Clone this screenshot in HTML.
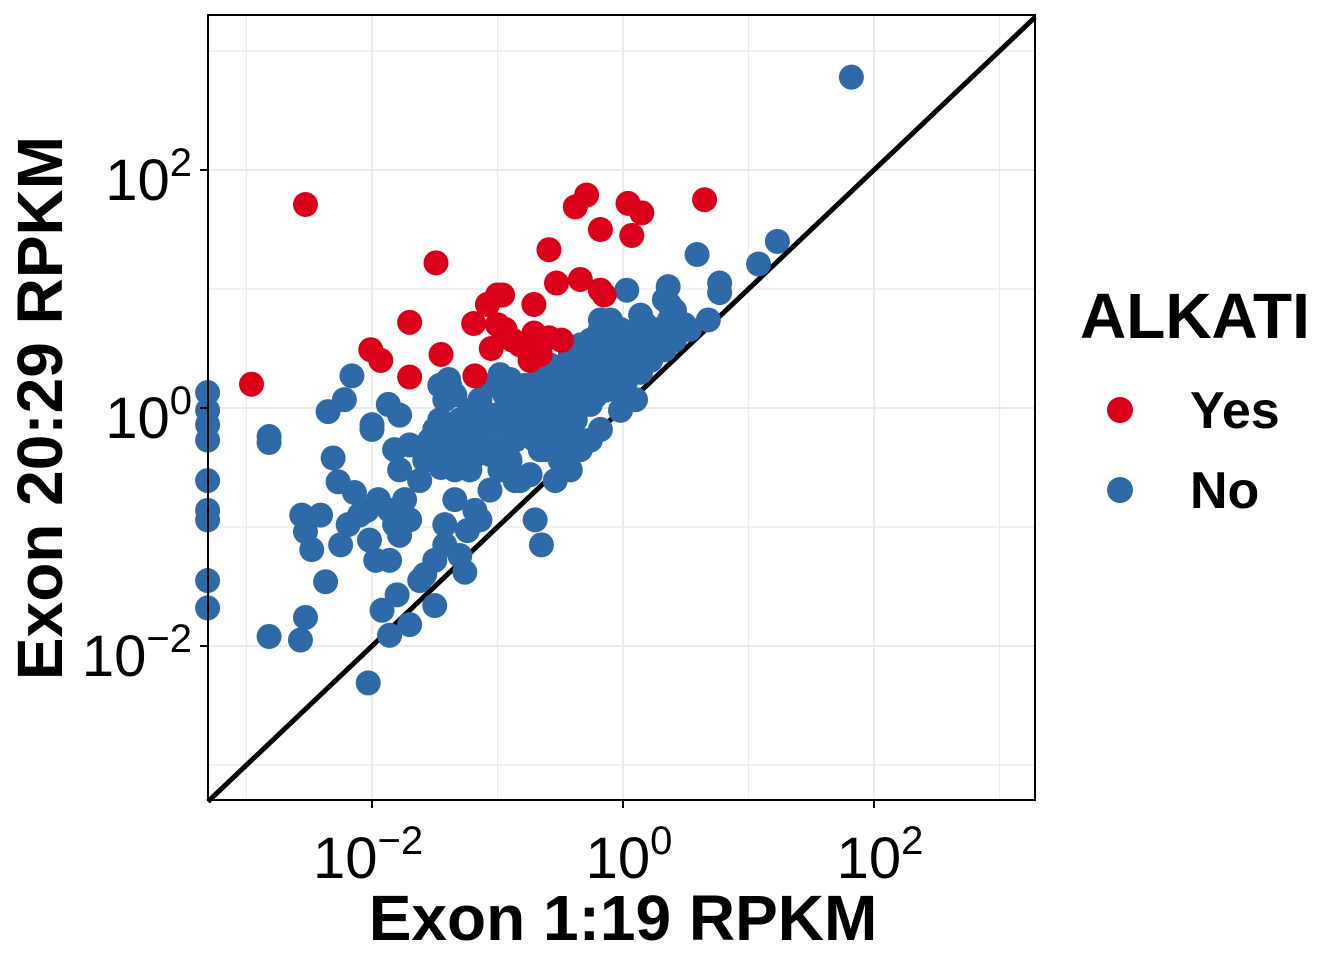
<!DOCTYPE html>
<html><head><meta charset="utf-8"><style>
body{margin:0;background:#fff}
svg text{font-family:"Liberation Sans",Arial,sans-serif}
</style></head><body>
<svg id="chart" width="1344" height="960" xmlns="http://www.w3.org/2000/svg">
<rect width="1344" height="960" fill="#fff"/>
<g id="grid"></g>
<line id="diag" stroke="#000" stroke-width="5"/>
<g id="pts"></g>
<rect x="208" y="15" width="827" height="785" fill="none" stroke="#000" stroke-width="2"/>
<g id="axes"></g>
<text x="623" y="940" text-anchor="middle" font-size="64" font-weight="bold">Exon 1:19 RPKM</text>
<text transform="translate(62,408) rotate(-90)" text-anchor="middle" font-size="64" font-weight="bold">Exon 20:29 RPKM</text>
<text x="1080" y="338" font-size="64" font-weight="bold">ALKATI</text>
<g><circle cx="1120" cy="410" r="13" fill="#DA0019"/><text x="1190" y="428" font-size="52" font-weight="bold">Yes</text></g>
<g><circle cx="1120" cy="490" r="13" fill="#2E6AA7"/><text x="1190" y="508" font-size="52" font-weight="bold">No</text></g>
</svg>
<script>
const xTicks=[-2,0,2];
const yTicks=[-2,0,2];
const minorTicks=[-3,-1,1,3];
const yesLogX=[-2.53,-2.96,-2.01,-1.93,-1.70,-1.70,-1.49,-1.45,-1.18,-1.19,-1.08,-1.00,-1.05,-0.96,-0.94,-1.00,-0.88,-0.71,-0.71,-0.69,-0.59,-0.59,-0.53,-0.49,-0.38,-0.34,-0.29,-0.18,-0.18,-0.15,0.04,0.07,0.15,0.65,-0.74,-0.66,-0.82];
const yesLogY=[1.71,0.20,0.49,0.40,0.72,0.26,1.22,0.45,0.27,0.71,0.87,0.95,0.50,0.95,0.66,0.70,0.57,0.87,0.63,0.49,1.33,0.59,1.05,0.57,1.69,1.08,1.79,1.50,0.99,0.95,1.72,1.45,1.64,1.75,0.40,0.45,0.53];
const noLogX=[1.82,1.23,1.08,0.77,0.77,0.59,0.68,0.36,0.03,
-3.31,-3.31,-3.31,-3.31,-3.31,-3.31,-3.31,-3.31,-3.31,
-2.82,-2.82,-2.82,-2.57,-2.53,-2.56,-2.53,-2.48,-2.41,-2.37,-2.35,-2.31,-2.27,-2.22,-2.16,-2.25,
-2.19,-2.14,-2.10,-2.04,-2.02,-2.00,-2.00,-1.97,-1.95,-2.03,-1.92,-1.86,-1.87,-1.78,-1.80,-1.86,
-1.86,-1.82,-1.78,-1.70,-1.74,-1.78,-1.82,-1.70,-1.62,-1.58,-1.54,-1.50,-1.46,-1.42,-1.38,-1.34,-1.70,
-1.62,-1.58,-1.50,-1.50,-1.42,-1.42,-1.30,-1.26,-1.34,-1.24,-1.18,-1.14,-1.06,-0.98,-0.90,-0.82,-0.74,-0.66,-0.62,-0.54,-0.46,-0.42,-0.34,-0.26,-0.70,-0.65,-0.50,
-1.38,-1.30,-1.22,-1.26,-1.14,-1.10,-1.06,-1.02,-0.94,-0.90,-0.86,-0.82,-0.78,-0.74,-0.70,-0.66,-0.62,-0.58,-0.54,-0.50,-0.46,-0.42,-0.38,-0.34,-0.30,-0.26,-0.22,-0.18,-0.14,-0.10,-0.06,-0.02,0.02,0.06,0.10,0.14,0.18,0.22,0.25,0.29,0.33,0.37,0.41,0.49,0.53,
-0.18,-0.10,-0.26,-0.34,-0.42,-0.50,-0.58,-0.66,-0.74,-0.82,-0.98,-1.06,-1.14,-1.22,-1.30,-1.38,-1.34,-0.02,0.02,0.10,-0.18,-0.34,-1.22,-0.98,-0.86,-0.62,-0.50,
-1.46,-1.39,-0.98,-0.90,-0.18,-0.02,0.14,0.33,0.37,0.41,
-1.42,-1.34,-1.26,-1.18,-1.10,-1.02,-0.94,-0.86,-0.78,-0.70,-0.62,-0.54,-0.46,-0.38,-0.30,-0.22,-0.14,-0.06,0.02,0.10,0.18,0.26,
-1.30,-1.18,-1.06,-0.94,-0.82,-0.70,-0.58,-0.46,-0.34,-0.22,-0.10,0.02,0.14,
-1.50,-1.40,-1.30,-1.20,-1.10,-1.00,-0.90,-0.80,-0.70,-0.60,-0.50,-0.40,-0.30,-0.20,-0.10,0.00,0.10,0.20,0.30,-1.45,-1.25,-1.05];
const noLogY=[2.78,1.40,1.21,1.05,0.97,1.29,0.74,1.02,0.99,
0.13,-0.02,-0.14,-0.27,-0.61,-0.86,-0.94,-1.45,-1.68,
-0.24,-0.29,-1.92,-1.95,-1.76,-0.90,-1.04,-1.19,-0.90,-1.46,-0.03,-0.42,-0.62,0.07,0.27,-1.15,
-0.98,-0.71,-0.90,-0.86,-1.11,-0.18,-0.14,-1.28,-0.77,-2.31,-1.70,-1.91,0.03,-0.06,-1.57,-1.28,
-0.86,-0.98,-1.07,-0.94,-0.77,-0.52,-0.35,-0.31,-0.61,-0.44,-0.27,-0.18,-0.10,0.07,0.19,0.11,-1.82,
-1.45,-1.40,-1.28,-1.66,-1.15,-0.98,-1.24,-1.38,-0.77,-1.03,-0.86,-0.94,-0.69,-0.52,-0.44,-0.61,-0.56,-0.35,-0.27,-0.61,-0.44,-0.52,-0.35,-0.27,-0.94,-1.15,-0.44,
-0.18,-0.10,-0.02,-0.31,0.07,-0.18,-0.39,-0.06,0.11,-0.14,-0.27,0.03,0.19,-0.10,-0.27,0.07,0.24,-0.06,0.11,-0.18,0.28,0.07,-0.10,0.19,0.40,0.03,0.28,0.49,0.15,0.36,0.57,0.24,0.45,0.61,0.32,0.53,0.70,0.40,0.57,0.66,0.49,0.74,0.57,0.70,0.66,
0.66,0.74,0.57,0.53,0.45,0.32,0.36,0.32,0.15,0.15,0.24,0.19,-0.02,-0.18,-0.35,-0.44,-0.52,-0.02,0.11,0.07,-0.18,-0.27,-0.52,-0.52,-0.61,-0.35,-0.27,
0.19,0.24,0.28,0.24,0.74,0.66,0.78,0.91,0.87,0.82,
-0.22,-0.26,-0.30,-0.20,-0.16,-0.12,-0.08,-0.04,0.00,0.04,0.08,0.12,0.16,0.20,0.24,0.28,0.32,0.36,0.40,0.44,0.48,0.52,
-0.48,-0.40,-0.36,-0.30,-0.22,-0.16,-0.10,-0.04,0.02,0.10,0.16,0.22,0.30,
-0.40,-0.34,-0.28,-0.22,-0.16,-0.10,-0.04,0.02,0.08,0.14,0.20,0.26,0.32,0.38,0.44,0.48,0.54,0.60,0.64,-0.50,-0.44,-0.38];
const X0=623,XS=125.5,Y0=408,YS=119,XMIN=-3.307,XMAX=3.283;
const sx=v=>X0+v*XS, sy=v=>Y0-v*YS;
const NS='http://www.w3.org/2000/svg';
function mk(t,a,p){const e=document.createElementNS(NS,t);for(const k in a)e.setAttribute(k,a[k]);p.appendChild(e);return e;}
const grid=document.getElementById('grid'),axes=document.getElementById('axes'),pts=document.getElementById('pts');
xTicks.concat(minorTicks).forEach(v=>{const l=mk('line',{x1:sx(v),x2:sx(v),y1:15,y2:800,stroke:'#ebebeb','stroke-width':xTicks.includes(v)?2:1.2},grid);

});
yTicks.concat(minorTicks).forEach(v=>{const l=mk('line',{y1:sy(v),y2:sy(v),x1:208,x2:1035,stroke:'#ebebeb','stroke-width':yTicks.includes(v)?2:1.2},grid);

});
const d=document.getElementById('diag');
d.setAttribute('x1',sx(XMIN));d.setAttribute('y1',sy(XMIN));d.setAttribute('x2',sx(XMAX));d.setAttribute('y2',sy(XMAX));
function lab(x,y,e,anchor,name){const t=mk('text',{x:x,y:y,'font-size':58,'text-anchor':anchor},axes);


const a=mk('tspan',{},t);a.textContent='10';const b=mk('tspan',{dy:-24,'font-size':40},t);b.textContent=String(e).replace('-','\u2212');}
xTicks.forEach(v=>{const tk=mk('line',{x1:sx(v),x2:sx(v),y1:800,y2:808,stroke:'#000','stroke-width':2},axes);


lab(sx(v)+(v<0?-4:6),878,v,'middle','x-tick-label');});
yTicks.forEach(v=>{const tk=mk('line',{x1:200,x2:208,y1:sy(v),y2:sy(v),stroke:'#000','stroke-width':2},axes);


lab(192,sy(v)+30,v,'end','y-tick-label');});
noLogX.forEach((v,i)=>{const c=mk('circle',{cx:sx(v),cy:sy(noLogY[i]),r:12.5,fill:'#2E6AA7'},pts);

});
yesLogX.forEach((v,i)=>{const c=mk('circle',{cx:sx(v),cy:sy(yesLogY[i]),r:12.5,fill:'#DA0019'},pts);

});
</script>
</body></html>
